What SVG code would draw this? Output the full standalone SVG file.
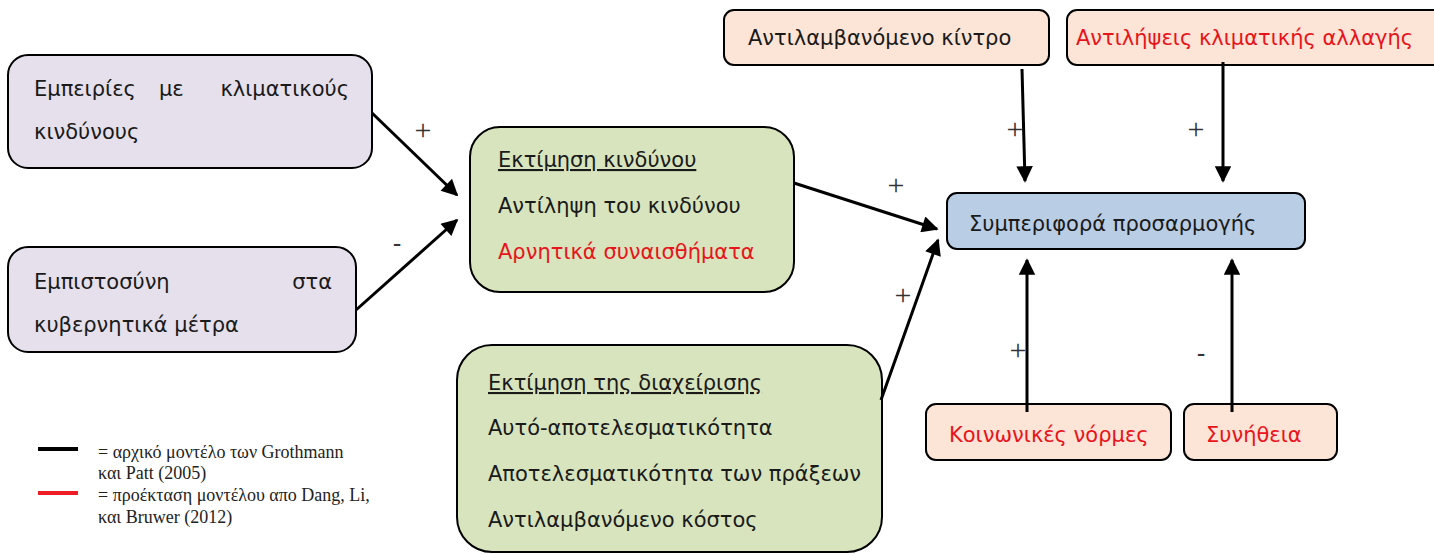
<svg xmlns="http://www.w3.org/2000/svg" width="1434" height="554" viewBox="0 0 1434 554">
<style>
.box{stroke:#000;stroke-width:2}
.purple{fill:#e5e0ec}
.green{fill:#d7e4bd}
.peach{fill:#fce4d6}
.blue{fill:#b9cde5}
.t{font-family:"DejaVu Sans","Noto Sans",sans-serif;font-size:21px;fill:#1a1a1a}
.red{fill:#e8141b}
.u{text-decoration:underline}
.sign{font-family:"Liberation Serif",serif;font-size:30px;fill:#333}
.minus{font-family:"Liberation Sans",sans-serif;font-size:26px;fill:#333}
.leg{font-family:"Liberation Serif",serif;font-size:18px;fill:#222}
.conn{stroke:#000;stroke-width:3;fill:none;marker-end:url(#ah)}
</style>
<defs>
<marker id="ah" viewBox="0 0 10 10" refX="9" refY="5" markerWidth="6.5" markerHeight="5.5" markerUnits="strokeWidth" orient="auto">
<path d="M0,0 L10,5 L0,10 z" fill="#000"/>
</marker>
</defs>
<rect width="1434" height="554" fill="#fff"/>

<g id="node-experiences">
<rect class="box purple" x="8" y="55" width="364" height="113" rx="20"/>
<text class="t" x="34" y="96">Εμπειρίες</text>
<text class="t" x="159" y="96">με</text>
<text class="t" x="349" y="96" text-anchor="end">κλιματικούς</text>
<text class="t" x="34" y="139">κινδύνους</text>
</g>

<g id="node-trust">
<rect class="box purple" x="8" y="247" width="348" height="105" rx="20"/>
<text class="t" x="34" y="289">Εμπιστοσύνη</text>
<text class="t" x="332" y="289" text-anchor="end">στα</text>
<text class="t" x="34" y="332">κυβερνητικά μέτρα</text>
</g>

<g id="node-risk">
<rect class="box green" x="470" y="127" width="324" height="165" rx="30"/>
<text class="t u" x="498" y="167">Εκτίμηση κινδύνου</text>
<text class="t" x="498" y="213">Αντίληψη του κινδύνου</text>
<text class="t red" x="498" y="259">Αρνητικά συναισθήματα</text>
</g>

<g id="node-coping">
<rect class="box green" x="457" y="345" width="425" height="207" rx="35"/>
<text class="t u" x="488" y="390">Εκτίμηση της διαχείρισης</text>
<text class="t" x="488" y="435">Αυτό-αποτελεσματικότητα</text>
<text class="t" x="488" y="481">Αποτελεσματικότητα των πράξεων</text>
<text class="t" x="488" y="527">Αντιλαμβανόμενο κόστος</text>
</g>

<g id="node-incentive">
<rect class="box peach" x="724" y="10" width="325" height="55" rx="10"/>
<text class="t" x="748" y="45">Αντιλαμβανόμενο κίντρο</text>
</g>

<g id="node-climate">
<rect class="box peach" x="1067" y="10" width="380" height="55" rx="10"/>
<text class="t red" x="1076" y="45">Αντιλήψεις κλιματικής αλλαγής</text>
</g>

<g id="node-behavior">
<rect class="box blue" x="947" y="193" width="358" height="56" rx="10"/>
<text class="t" x="969" y="231">Συμπεριφορά προσαρμογής</text>
</g>

<g id="node-norms">
<rect class="box peach" x="926" y="404" width="245" height="56" rx="10"/>
<text class="t red" x="949" y="442">Κοινωνικές νόρμες</text>
</g>

<g id="node-habit">
<rect class="box peach" x="1184" y="404" width="153" height="56" rx="10"/>
<text class="t red" x="1206" y="442">Συνήθεια</text>
</g>

<g id="connectors">
<line class="conn" x1="372" y1="113" x2="457" y2="195"/>
<line class="conn" x1="356" y1="310" x2="457" y2="220"/>
<line class="conn" x1="794" y1="183" x2="937" y2="229"/>
<line class="conn" x1="881" y1="400" x2="938" y2="240"/>
<line class="conn" x1="1022" y1="69" x2="1025" y2="181"/>
<line class="conn" x1="1223" y1="62" x2="1223" y2="181"/>
<line class="conn" x1="1027" y1="412" x2="1027" y2="260"/>
<line class="conn" x1="1232" y1="412" x2="1232" y2="260"/>
</g>

<g id="signs">
<text class="sign" x="423" y="140" text-anchor="middle">+</text>
<text class="minus" x="397" y="252" text-anchor="middle">-</text>
<text class="sign" x="896" y="195" text-anchor="middle">+</text>
<text class="sign" x="903" y="305" text-anchor="middle">+</text>
<text class="sign" x="1015" y="139" text-anchor="middle">+</text>
<text class="sign" x="1196" y="139" text-anchor="middle">+</text>
<text class="sign" x="1018" y="360" text-anchor="middle">+</text>
<text class="minus" x="1201" y="362" text-anchor="middle">-</text>
</g>

<g id="legend">
<line x1="38" y1="449" x2="78" y2="449" stroke="#000" stroke-width="4"/>
<line x1="38" y1="493" x2="78" y2="493" stroke="#ee1c24" stroke-width="4"/>
<text class="leg" x="98" y="458">= αρχικό μοντέλο των Grothmann</text>
<text class="leg" x="98" y="479">και Patt (2005)</text>
<text class="leg" x="98" y="501">= προέκταση μοντέλου απο Dang, Li,</text>
<text class="leg" x="98" y="523">και Bruwer (2012)</text>
</g>
</svg>
